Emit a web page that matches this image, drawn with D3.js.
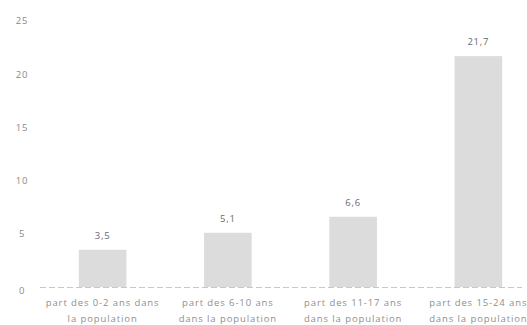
<!DOCTYPE html>
<html><head><meta charset="utf-8">
<script src="https://cdn.jsdelivr.net/npm/d3@7"></script>
<style>body{margin:0;background:#fff}svg{display:block}text{font-family:"Open Sans",sans-serif}</style>
</head><body><svg id="c" width="527" height="325"></svg>
<script>
const categories = [
  ["part des 0-2 ans dans", "la population"],
  ["part des 6-10 ans", "dans la population"],
  ["part des 11-17 ans", "dans la population"],
  ["part des 15-24 ans", "dans la population"]
];
const values = [3.5, 5.1, 6.6, 21.7];
const valueLabels = ["3,5", "5,1", "6,6", "21,7"];
const yTicks = [0, 5, 10, 15, 20, 25];

const svg = d3.select("#c");
const x = d3.scaleBand().domain(d3.range(values.length)).range([40, 541]).paddingInner(0.62).paddingOuter(0.31);
const y = d3.scaleLinear().domain([0, 25]).range([287, 21]);

// y tick labels
svg.append("g").selectAll("text").data(yTicks).join("text")
  .attr("x", 22).attr("y", d => y(d) + (d === 0 ? 4 : 0)).attr("dy", "0.35em")
  .attr("text-anchor", "middle").attr("font-size", 9.5).attr("letter-spacing", 0.8)
  .attr("fill", "#8a8a8a")
  .text(d => d);

// bars
svg.append("g").selectAll("rect").data(values).join("rect")
  .attr("x", (d, i) => x(i)).attr("width", x.bandwidth())
  .attr("y", d => y(d)).attr("height", d => y(0) - y(d))
  .attr("fill", "#dcdcdc");

// baseline
svg.append("line").attr("x1", 40).attr("x2", 522).attr("y1", y(0) + 0.5).attr("y2", y(0) + 0.5)
  .attr("stroke", "#c8c8c8").attr("stroke-width", 1).attr("stroke-dasharray", "6,3");

// value labels
svg.append("g").selectAll("text").data(values).join("text")
  .attr("x", (d, i) => x(i) + x.bandwidth() / 2).attr("y", d => y(d) - 14).attr("dy", "0.35em")
  .attr("text-anchor", "middle").attr("font-size", 9.5).attr("letter-spacing", 0.8)
  .attr("fill", "#6a6a6a")
  .text((d, i) => valueLabels[i]);

// category labels
const cl = svg.append("g").selectAll("text").data(categories).join("text")
  .attr("x", (d, i) => x(i) + x.bandwidth() / 2).attr("y", 306)
  .attr("text-anchor", "middle").attr("font-size", 9.5).attr("letter-spacing", 0.9)
  .attr("fill", "#8f8f8f");
cl.selectAll("tspan").data(d => d).join("tspan")
  .attr("x", function(){ return this.parentNode.getAttribute("x"); })
  .attr("dy", (d, j) => j === 0 ? 0 : 16)
  .text(d => d);
</script></body></html>
